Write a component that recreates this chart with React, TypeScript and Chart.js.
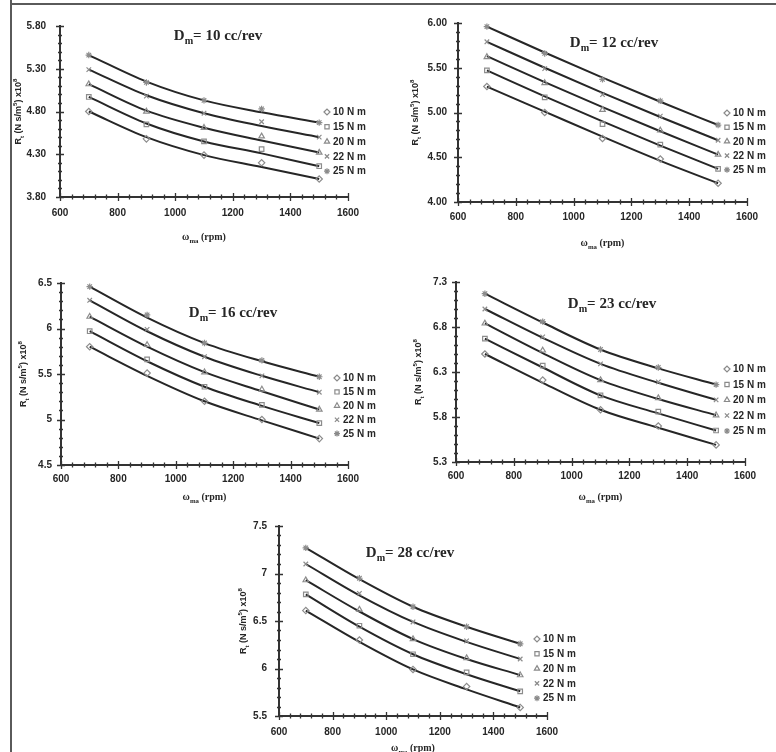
import React, { useEffect, useRef } from 'react';
import { Chart, registerables } from 'chart.js';
import { drawPoint } from 'chart.js/helpers';

Chart.register(...registerables);

// ---------- data ----------
const rpm = [700, 900, 1100, 1300, 1500];
const xTicks = [600, 800, 1000, 1200, 1400, 1600];
const torques = ['10 N m', '15 N m', '20 N m', '22 N m', '25 N m'];
const pointStyles = ['rectRot', 'rect', 'triangle', 'crossRot', 'star'];

// rows: 10, 15, 20, 22, 25 N m ; columns: rpm
// measured points (markers)
const ptsDm10 = [
  [4.80, 4.48, 4.29, 4.20, 4.01],
  [4.97, 4.65, 4.45, 4.36, 4.16],
  [5.12, 4.80, 4.61, 4.51, 4.32],
  [5.29, 4.98, 4.78, 4.68, 4.50],
  [5.46, 5.14, 4.93, 4.83, 4.67],
];
// trend curves (solid lines)
const fitDm10 = [
  [4.80, 4.50, 4.29, 4.15, 4.01],
  [4.97, 4.66, 4.45, 4.31, 4.16],
  [5.12, 4.81, 4.61, 4.46, 4.32],
  [5.29, 4.99, 4.78, 4.63, 4.50],
  [5.46, 5.15, 4.93, 4.79, 4.67],
];
const yTicksDm10 = [3.8, 4.3, 4.8, 5.3, 5.8];
const yLabelsDm10 = ['3.80', '4.30', '4.80', '5.30', '5.80'];

const ptsDm12 = [
  [5.29, 5.00, 4.71, 4.48, 4.21],
  [5.47, 5.17, 4.87, 4.64, 4.37],
  [5.62, 5.33, 5.03, 4.80, 4.53],
  [5.79, 5.49, 5.20, 4.96, 4.69],
  [5.96, 5.66, 5.37, 5.13, 4.86],
];
const fitDm12 = [
  [5.29, 5.01, 4.73, 4.46, 4.21],
  [5.47, 5.18, 4.90, 4.63, 4.37],
  [5.63, 5.34, 5.06, 4.79, 4.53],
  [5.79, 5.50, 5.22, 4.95, 4.69],
  [5.96, 5.67, 5.39, 5.12, 4.86],
];
const yTicksDm12 = [4.0, 4.5, 5.0, 5.5, 6.0];
const yLabelsDm12 = ['4.00', '4.50', '5.00', '5.50', '6.00'];

const ptsDm16 = [
  [5.80, 5.51, 5.20, 5.00, 4.79],
  [5.97, 5.66, 5.36, 5.16, 4.96],
  [6.13, 5.82, 5.52, 5.33, 5.11],
  [6.31, 5.99, 5.69, 5.48, 5.30],
  [6.46, 6.15, 5.84, 5.65, 5.47],
];
const fitDm16 = [
  [5.80, 5.48, 5.20, 4.99, 4.79],
  [5.97, 5.64, 5.36, 5.15, 4.96],
  [6.13, 5.80, 5.52, 5.31, 5.11],
  [6.31, 5.97, 5.69, 5.48, 5.30],
  [6.46, 6.12, 5.84, 5.64, 5.47],
];
const yTicksDm16 = [4.5, 5.0, 5.5, 6.0, 6.5];
const yLabelsDm16 = ['4.5', '5', '5.5', '6', '6.5'];

const ptsDm23 = [
  [6.50, 6.21, 5.88, 5.70, 5.49],
  [6.67, 6.37, 6.04, 5.86, 5.65],
  [6.84, 6.54, 6.21, 6.01, 5.82],
  [7.00, 6.69, 6.39, 6.19, 5.99],
  [7.17, 6.86, 6.55, 6.35, 6.16],
];
const fitDm23 = [
  [6.50, 6.18, 5.88, 5.68, 5.49],
  [6.67, 6.35, 6.04, 5.84, 5.65],
  [6.84, 6.51, 6.21, 6.00, 5.82],
  [7.00, 6.68, 6.39, 6.18, 5.99],
  [7.17, 6.85, 6.55, 6.34, 6.16],
];
const yTicksDm23 = [5.3, 5.8, 6.3, 6.8, 7.3];
const yLabelsDm23 = ['5.3', '5.8', '6.3', '6.8', '7.3'];

const ptsDm28 = [
  [6.61, 6.30, 5.99, 5.81, 5.59],
  [6.78, 6.45, 6.15, 5.96, 5.76],
  [6.93, 6.62, 6.31, 6.11, 5.93],
  [7.10, 6.79, 6.49, 6.29, 6.10],
  [7.27, 6.95, 6.65, 6.44, 6.26],
];
const fitDm28 = [
  [6.61, 6.28, 5.99, 5.78, 5.59],
  [6.78, 6.44, 6.15, 5.94, 5.76],
  [6.93, 6.60, 6.31, 6.10, 5.93],
  [7.10, 6.77, 6.49, 6.28, 6.10],
  [7.27, 6.94, 6.65, 6.44, 6.26],
];
const yTicksDm28 = [5.5, 6.0, 6.5, 7.0, 7.5];
const yLabelsDm28 = ['5.5', '6', '6.5', '7', '7.5'];

// ---------- layout ----------
type Seg = { t: string; sub?: boolean; sup?: boolean };
interface PanelCfg {
  x: number; y: number; w: number; h: number;
  area: [number, number, number, number];
  pts: number[][]; fit: number[][]; yTicks: number[]; yLabels: string[];
  dm: string;
  titleAt: [number, number];
  legendX: number; legendY: number; legendStep: number;
  yTitleX: number; xTitleY: number;
  yPad: number; xPad: number;
}

const panels: PanelCfg[] = [
  { x: 0, y: 6, w: 388, h: 245, area: [60, 16, 348, 197], pts: ptsDm10, fit: fitDm10, yTicks: yTicksDm10, yLabels: yLabelsDm10,
    dm: '= 10 cc/rev', titleAt: [218, 35], legendX: 327, legendY: 112, legendStep: 14.8, yTitleX: 18, xTitleY: 237, yPad: 14, xPad: 10 },
  { x: 390, y: 6, w: 386, h: 245, area: [458, 21, 747, 202], pts: ptsDm12, fit: fitDm12, yTicks: yTicksDm12, yLabels: yLabelsDm12,
    dm: '= 12 cc/rev', titleAt: [614, 42], legendX: 727, legendY: 113, legendStep: 14.2, yTitleX: 415, xTitleY: 243, yPad: 11, xPad: 9 },
  { x: 0, y: 256, w: 388, h: 250, area: [61, 283, 348, 465], pts: ptsDm16, fit: fitDm16, yTicks: yTicksDm16, yLabels: yLabelsDm16,
    dm: '= 16 cc/rev', titleAt: [233, 312], legendX: 337, legendY: 378, legendStep: 13.9, yTitleX: 23, xTitleY: 497, yPad: 9, xPad: 8 },
  { x: 390, y: 256, w: 386, h: 250, area: [456, 282, 745, 462], pts: ptsDm23, fit: fitDm23, yTicks: yTicksDm23, yLabels: yLabelsDm23,
    dm: '= 23 cc/rev', titleAt: [612, 303], legendX: 727, legendY: 369, legendStep: 15.5, yTitleX: 418, xTitleY: 497, yPad: 9, xPad: 8 },
  { x: 200, y: 506, w: 400, h: 246, area: [279, 526, 547, 716], pts: ptsDm28, fit: fitDm28, yTicks: yTicksDm28, yLabels: yLabelsDm28,
    dm: '= 28 cc/rev', titleAt: [410, 552], legendX: 537, legendY: 639, legendStep: 14.8, yTitleX: 243, xTitleY: 748, yPad: 12, xPad: 10 },
];

const TEXT = '#262626';
const SANS = '"Liberation Sans", Arial, sans-serif';
const SERIF = '"Liberation Serif", "Times New Roman", serif';

function drawRich(ctx: CanvasRenderingContext2D, segs: Seg[], cx: number, baseY: number, size: number, family: string) {
  const parts = segs.map((s) => {
    const fs = s.sub || s.sup ? size * 0.68 : size;
    ctx.font = `bold ${fs}px ${family}`;
    return { ...s, fs, w: ctx.measureText(s.t).width };
  });
  const total = parts.reduce((a, p) => a + p.w, 0);
  let x = cx - total / 2;
  ctx.textAlign = 'left';
  ctx.textBaseline = 'alphabetic';
  for (const p of parts) {
    ctx.font = `bold ${p.fs}px ${family}`;
    const dy = p.sub ? size * 0.28 : p.sup ? -size * 0.42 : 0;
    ctx.fillText(p.t, x, baseY + dy);
    x += p.w;
  }
}

function makeDecor(c: PanelCfg) {
  return {
    id: 'decor',
    afterDraw(chart: any) {
      const ctx: CanvasRenderingContext2D = chart.ctx;
      const { left, right, top, bottom } = chart.chartArea;
      const xs = chart.scales.x;
      const ys = chart.scales.y;
      ctx.save();
      ctx.strokeStyle = '#333';
      ctx.lineWidth = 2;
      ctx.beginPath();
      ctx.moveTo(left, top - 1);
      ctx.lineTo(left, bottom);
      ctx.lineTo(right + 1, bottom);
      ctx.stroke();

      ctx.lineWidth = 1.3;
      const yStep = (c.yTicks[1] - c.yTicks[0]) / 5;
      const nY = (c.yTicks.length - 1) * 5;
      ctx.beginPath();
      for (let k = 0; k <= nY; k++) {
        const py = Math.round(ys.getPixelForValue(c.yTicks[0] + k * yStep)) + 0.5;
        const h = k % 5 === 0 ? 4 : 2;
        ctx.moveTo(left - h, py);
        ctx.lineTo(left + h, py);
      }
      const xStep = (xTicks[1] - xTicks[0]) / 5;
      const nX = (xTicks.length - 1) * 5;
      for (let k = 0; k <= nX; k++) {
        const px = Math.round(xs.getPixelForValue(xTicks[0] + k * xStep)) + 0.5;
        const h = k % 5 === 0 ? 4 : 2.5;
        ctx.moveTo(px, bottom - h);
        ctx.lineTo(px, bottom + h);
      }
      ctx.stroke();

      ctx.fillStyle = TEXT;
      drawRich(ctx, [{ t: 'D' }, { t: 'm', sub: true }, { t: c.dm }], c.titleAt[0] - c.x, c.titleAt[1] - c.y + 5, 15, SERIF);
      drawRich(ctx, [{ t: 'ω' }, { t: 'ma', sub: true }, { t: ' (rpm)' }], (left + right) / 2, c.xTitleY - c.y + 3, 10, SERIF);
      ctx.save();
      ctx.translate(c.yTitleX - c.x, (top + bottom) / 2);
      ctx.rotate(-Math.PI / 2);
      drawRich(ctx, [{ t: 'R' }, { t: 't', sub: true }, { t: ' (N s/m' }, { t: '5', sup: true }, { t: ') x10' }, { t: '8', sup: true }], 0, 3, 9, SANS);
      ctx.restore();

      for (let i = 0; i < torques.length; i++) {
        const ly = c.legendY - c.y + i * c.legendStep;
        const lx = c.legendX - c.x;
        ctx.strokeStyle = '#8a8a8a';
        ctx.fillStyle = 'rgba(0,0,0,0)';
        ctx.lineWidth = 1.2;
        drawPoint(ctx, { pointStyle: pointStyles[i] as any, radius: 3, borderWidth: 1.2, rotation: 0 } as any, lx, ly);
        ctx.fillStyle = TEXT;
        ctx.font = `bold 10px ${SANS}`;
        ctx.textAlign = 'left';
        ctx.textBaseline = 'middle';
        ctx.fillText(torques[i], lx + 6, ly + 0.5);
      }
      ctx.restore();
    },
  };
}

function Panel({ cfg }: { cfg: PanelCfg }) {
  const ref = useRef<HTMLCanvasElement>(null);
  useEffect(() => {
    const c = cfg;
    const Lc = c.area[0] - c.x, Tc = c.area[1] - c.y, Rc = c.area[2] - c.x, Bc = c.area[3] - c.y;
    const yW = Lc - 2, xH = 20;
    const lines = c.fit.map((vals, i) => ({
      label: torques[i] + ' fit',
      data: rpm.map((x, j) => ({ x, y: vals[j] })),
      borderColor: '#262626',
      borderWidth: 2,
      cubicInterpolationMode: 'monotone' as const,
      pointRadius: 0,
      order: 2,
    }));
    const marks = c.pts.map((vals, i) => ({
      label: torques[i],
      data: rpm.map((x, j) => ({ x, y: vals[j] })),
      showLine: false,
      pointStyle: pointStyles[i] as any,
      pointRadius: 3.2,
      pointBorderColor: '#8c8c8c',
      pointBackgroundColor: 'rgba(0,0,0,0)',
      pointBorderWidth: 1.2,
      order: 1,
    }));
    const chart = new Chart(ref.current as HTMLCanvasElement, {
      type: 'line',
      data: { datasets: [...lines, ...marks] },
      options: {
        responsive: false,
        animation: false,
        devicePixelRatio: 1,
        events: [],
        layout: { padding: { left: Lc - yW, top: Tc, right: c.w - Rc, bottom: c.h - Bc - xH } },
        plugins: { legend: { display: false }, tooltip: { enabled: false }, title: { display: false } },
        scales: {
          x: {
            type: 'linear', min: 600, max: 1600,
            afterBuildTicks: (s: any) => { s.ticks = xTicks.map((v) => ({ value: v })); },
            afterFit: (s: any) => { s.height = xH; },
            grid: { display: false, drawTicks: false },
            border: { display: false },
            ticks: { padding: c.xPad, color: TEXT, font: { family: SANS, size: 10, weight: 'bold' }, maxRotation: 0, autoSkip: false,
              callback: (v: any) => String(v) },
          },
          y: {
            type: 'linear', min: c.yTicks[0], max: c.yTicks[c.yTicks.length - 1],
            afterBuildTicks: (s: any) => { s.ticks = c.yTicks.map((v) => ({ value: v })); },
            afterFit: (s: any) => { s.width = yW; },
            grid: { display: false, drawTicks: false },
            border: { display: false },
            ticks: { padding: c.yPad, color: TEXT, font: { family: SANS, size: 10, weight: 'bold' }, autoSkip: false,
              callback: (_v: any, idx: number) => c.yLabels[idx] },
          },
        },
      } as any,
      plugins: [makeDecor(c)],
    });
    return () => chart.destroy();
  }, [cfg]);
  return (
    <canvas
      ref={ref}
      width={cfg.w}
      height={cfg.h}
      style={{ position: 'absolute', left: cfg.x, top: cfg.y, width: cfg.w, height: cfg.h }}
    />
  );
}

export default function App() {
  return (
    <div style={{ position: 'absolute', left: 0, top: 0, width: 776, height: 752, background: '#fff', overflow: 'hidden' }}>
      <div style={{ position: 'absolute', left: 10, top: 0, width: 2, height: 752, background: '#5a5a5a' }} />
      <div style={{ position: 'absolute', left: 10, top: 3, width: 766, height: 2, background: '#5a5a5a' }} />
      {panels.map((p, i) => (
        <Panel key={i} cfg={p} />
      ))}
    </div>
  );
}
